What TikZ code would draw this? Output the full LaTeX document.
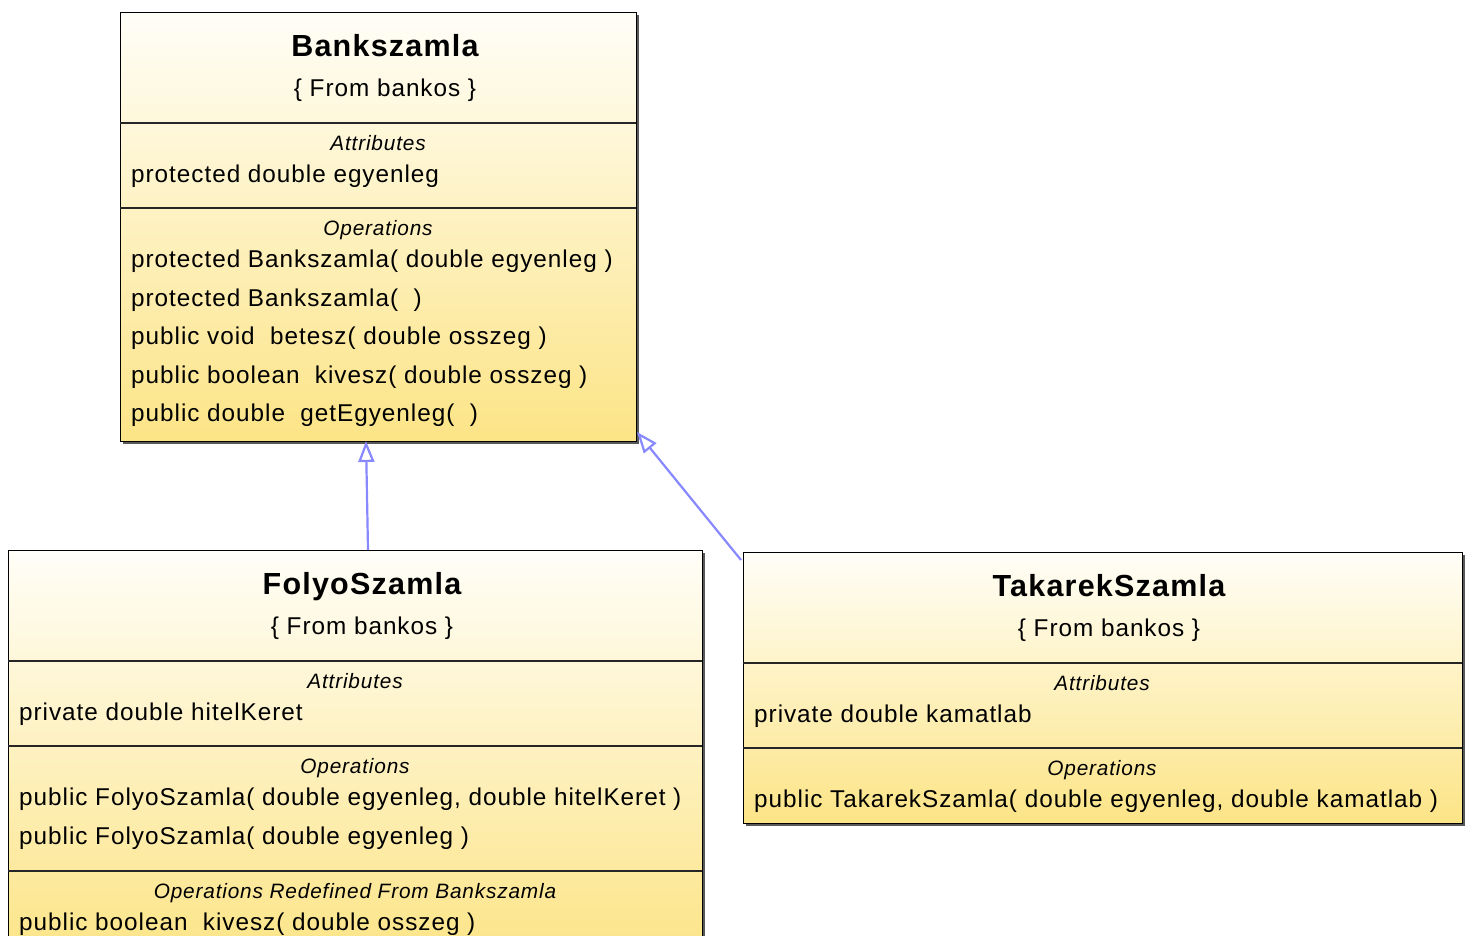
\documentclass[tikz,border=0pt]{standalone}
\usepackage{fontspec}
\setmainfont{Liberation Sans}[LetterSpace=4]
\usetikzlibrary{arrows.meta,shadows}
\definecolor{boxtop}{HTML}{FFFEF8}
\definecolor{boxbot}{HTML}{FCE486}
\definecolor{inh}{HTML}{8888FF}
\tikzset{
  classbox/.style={draw=black, line width=1.3pt, top color=boxtop, bottom color=boxbot,
    anchor=north west, inner sep=0pt,
    drop shadow={shadow xshift=2pt, shadow yshift=-2pt, fill=black!65, opacity=1}},
  ctitle/.style={font=\fontsize{30.5}{34}\selectfont\bfseries, inner sep=0pt, anchor=base},
  cfrom/.style={font=\fontsize{24.3}{28}\selectfont, inner sep=0pt, anchor=base},
  csect/.style={font=\fontsize{20.8}{24}\selectfont\itshape, inner sep=0pt, anchor=base},
  citem/.style={font=\fontsize{24.3}{28}\selectfont, inner sep=0pt, anchor=base west},
  divider/.style={line width=1.3pt, draw=black!85},
  inherit/.style={draw=inh, line width=2.2pt, -{Triangle[open, length=21pt, width=16pt, fill=white]}}
}
\begin{document}
\begin{tikzpicture}[x=1pt,y=-1pt]
\useasboundingbox (0,0) rectangle (1468,936);
\clip (0,0) rectangle (1468,936);
\fill[white] (0,0) rectangle (1468,936);

% ---------- Bankszamla ----------
\node[classbox, minimum width=516pt, minimum height=429pt] (bank) at (120,12) {};
\draw[divider] (120,123) -- (636,123);
\draw[divider] (120,208) -- (636,208);
\node[ctitle] (bankT) at (385,56.7) {Bankszamla};
\node[cfrom]  (bankF) at (385,96.7) {\{ From bankos \}};
\node[csect]  (bankA) at (378,150.7) {Attributes};
\node[citem]  (bankA1) at (131,182.7) {protected double egyenleg};
\node[csect]  (bankO) at (378,235.7) {Operations};
\node[citem]  (bankO1) at (131,267.7) {protected Bankszamla( double egyenleg )};
\node[citem]  (bankO2) at (131,306.2) {protected Bankszamla(\ \ )};
\node[citem]  (bankO3) at (131,344.7) {public void\ \ betesz( double osszeg )};
\node[citem]  (bankO4) at (131,383.2) {public boolean\ \ kivesz( double osszeg )};
\node[citem]  (bankO5) at (131,421.7) {public double\ \ getEgyenleg(\ \ )};

% ---------- FolyoSzamla ----------
\node[classbox, minimum width=694pt, minimum height=410pt] (folyo) at (8,550) {};
\draw[divider] (8,661) -- (702,661);
\draw[divider] (8,746) -- (702,746);
\draw[divider] (8,871) -- (702,871);
\node[ctitle] (folyoT) at (362,594.7) {FolyoSzamla};
\node[cfrom]  (folyoF) at (362,634.7) {\{ From bankos \}};
\node[csect]  (folyoA) at (355,688.7) {Attributes};
\node[citem]  (folyoA1) at (19,720.7) {private double hitelKeret};
\node[csect]  (folyoO) at (355,773.7) {Operations};
\node[citem]  (folyoO1) at (19,805.7) {public FolyoSzamla( double egyenleg, double hitelKeret )};
\node[citem]  (folyoO2) at (19,844.2) {public FolyoSzamla( double egyenleg )};
\node[csect]  (folyoR) at (355,898.7) {Operations Redefined From Bankszamla};
\node[citem]  (folyoR1) at (19,930.7) {public boolean\ \ kivesz( double osszeg )};

% ---------- TakarekSzamla ----------
\node[classbox, minimum width=719pt, minimum height=271pt] (tak) at (743,552) {};
\draw[divider] (743,663) -- (1462,663);
\draw[divider] (743,748) -- (1462,748);
\node[ctitle] (takT) at (1109,596.7) {TakarekSzamla};
\node[cfrom]  (takF) at (1109,636.7) {\{ From bankos \}};
\node[csect]  (takA) at (1102,690.7) {Attributes};
\node[citem]  (takA1) at (754,722.7) {private double kamatlab};
\node[csect]  (takO) at (1102,775.7) {Operations};
\node[citem]  (takO1) at (754,807.7) {public TakarekSzamla( double egyenleg, double kamatlab )};

% ---------- generalizations ----------
\coordinate (fStart) at (368,550);
\coordinate (bTip1) at (366,441);
\coordinate (tStart) at (741,560);
\coordinate (bTip2) at (637,432);
\draw[inherit] (fStart) -- (bTip1);
\draw[inherit] (tStart) -- (bTip2);
\end{tikzpicture}
\end{document}
